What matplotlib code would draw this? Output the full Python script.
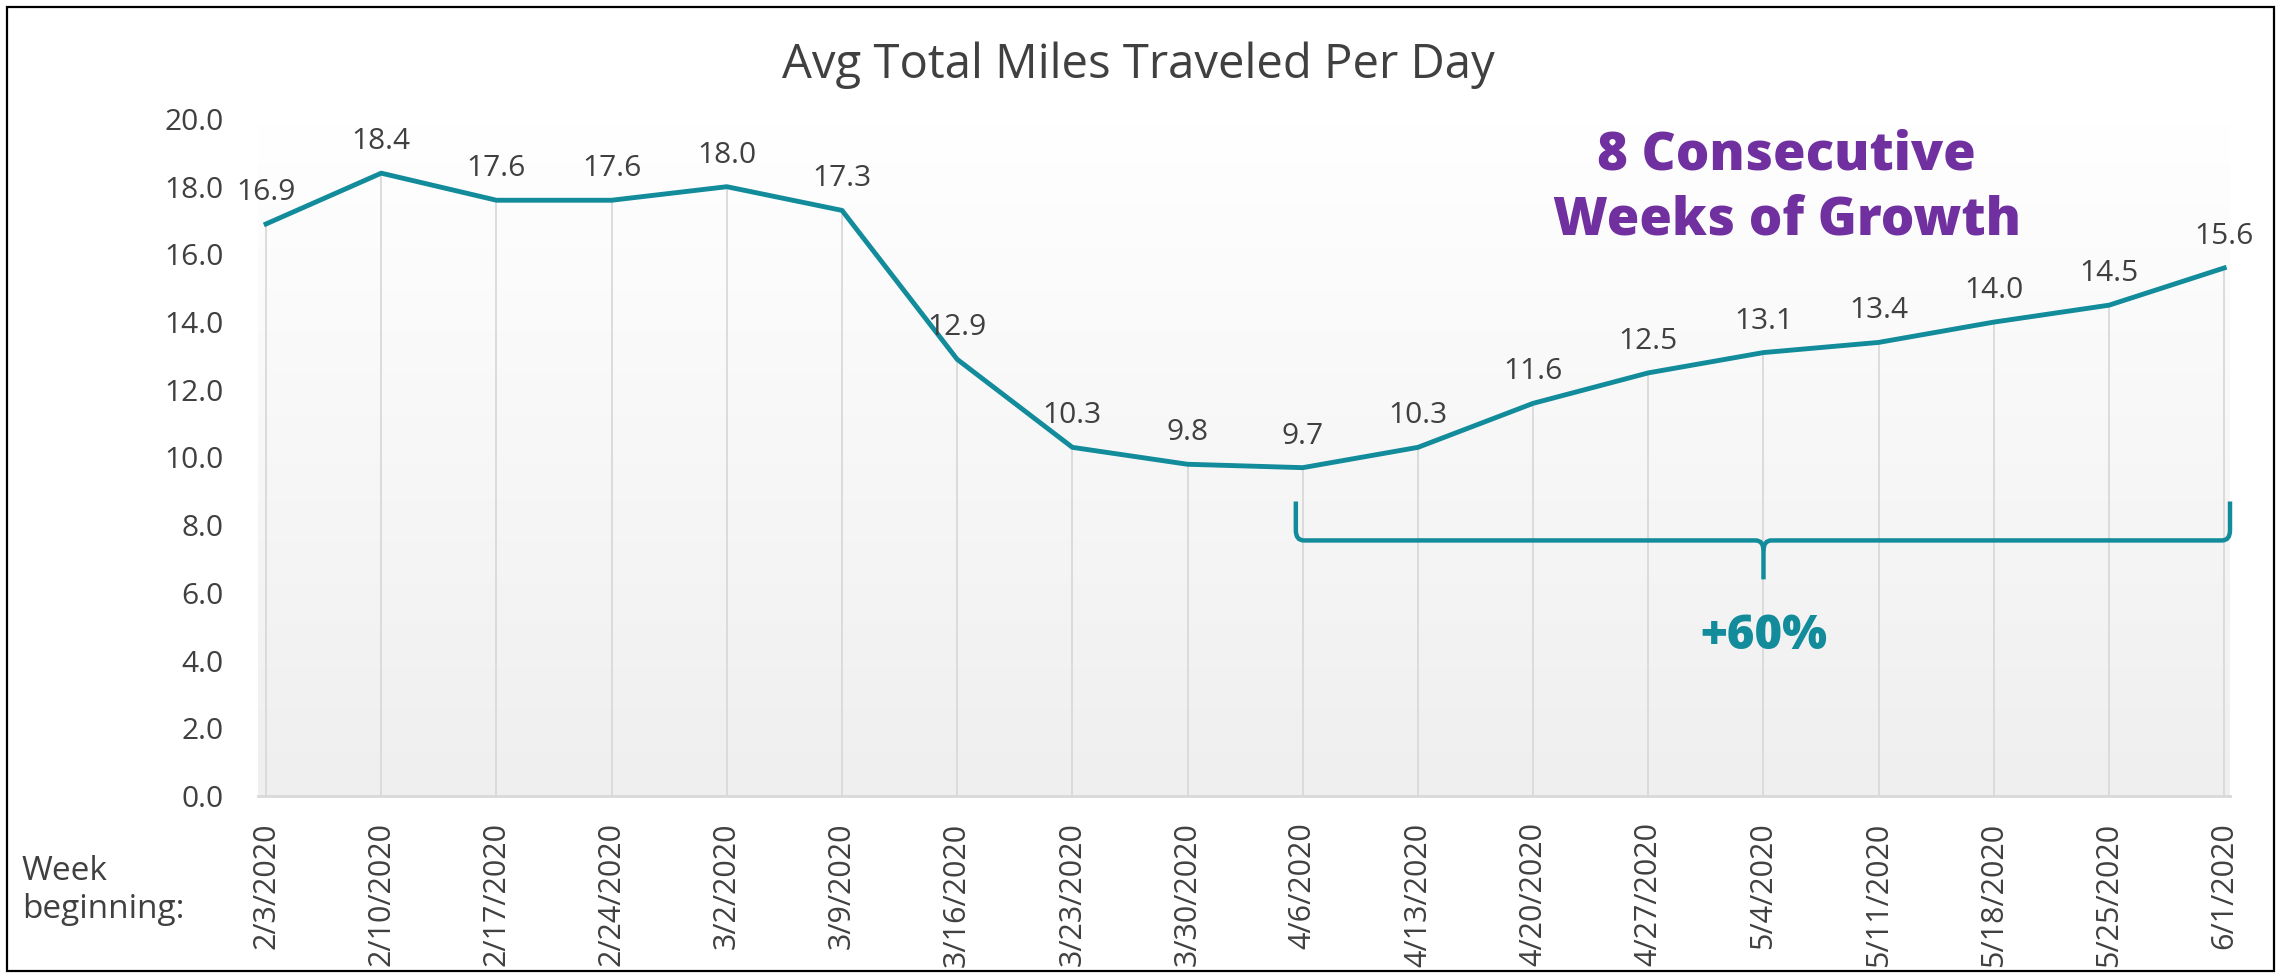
import numpy as np
import matplotlib
matplotlib.use("Agg")
import matplotlib.pyplot as plt
from matplotlib.path import Path
from matplotlib.patches import PathPatch, Rectangle
from matplotlib.colors import LinearSegmentedColormap

plt.rcParams['font.family'] = ['Open Sans', 'DejaVu Sans']

# data
weeks = ['2/3/2020', '2/10/2020', '2/17/2020', '2/24/2020', '3/2/2020', '3/9/2020',
         '3/16/2020', '3/23/2020', '3/30/2020', '4/6/2020', '4/13/2020', '4/20/2020',
         '4/27/2020', '5/4/2020', '5/11/2020', '5/18/2020', '5/25/2020', '6/1/2020']
miles = [16.9, 18.4, 17.6, 17.6, 18.0, 17.3, 12.9, 10.3, 9.8, 9.7, 10.3, 11.6,
         12.5, 13.1, 13.4, 14.0, 14.5, 15.6]
y_ticks = np.arange(0, 20.1, 2.0)

# brace across the growth weeks
growth_start = 9
growth_end = 17
brace_top = 8.7
brace_mid = 7.55
brace_tip = 6.4

teal = '#128B9B'
purple = '#7030A0'
grey_txt = '#404040'

fig = plt.figure(figsize=(22.79, 9.74), dpi=100)
ax = fig.add_axes([258/2279, 178/974, (2230-258)/2279, (796-119)/974])

x = np.arange(len(miles))
xlim = (-0.07, len(miles) - 1 + 0.05)
ax.set_xlim(*xlim)
ax.set_ylim(0, 20)

# gradient plot area
cmap = LinearSegmentedColormap.from_list('bg', ['#ffffff', '#efefef'])
ax.imshow(np.linspace(0, 1, 100).reshape(-1, 1), cmap=cmap, aspect='auto',
          extent=[xlim[0], xlim[1], 0, 20], zorder=0, interpolation='bilinear')

# drop lines
ax.vlines(x, 0, miles, color='#d9d9d9', lw=1.3, zorder=1)
ax.plot(x, miles, color=teal, lw=3.5, zorder=3, solid_joinstyle='round')

for xi, v in zip(x, miles):
    ax.annotate(f'{v:.1f}', (xi, v), xytext=(0, 17), textcoords='offset pixels',
                ha='center', va='bottom', fontsize=21.5, color=grey_txt)

for s in ['top', 'right', 'left']:
    ax.spines[s].set_visible(False)
ax.spines['bottom'].set_color('#d9d9d9')
ax.spines['bottom'].set_linewidth(2)

ax.set_yticks(y_ticks)
ax.set_yticklabels([f'{t:.1f}' for t in y_ticks])
ax.set_xticks(x)
ax.set_xticklabels(weeks, rotation=90, va='top', ha='center')
ax.tick_params(axis='y', length=0, pad=25, labelsize=21.5, labelcolor=grey_txt)
ax.tick_params(axis='x', length=0, pad=19, labelsize=22, labelcolor=grey_txt)

fig.text(1138/2279, 1 - 65/974, 'Avg Total Miles Traveled Per Day', ha='center',
         va='center', fontsize=34, color=grey_txt)
fig.text(22/2279, 1 - 890/974, 'Week\nbeginning:', ha='left', va='center',
         fontsize=24, color=grey_txt, linespacing=1.2)

ax.text(13.2, 17.95, '8 Consecutive\nWeeks of Growth', ha='center', va='center',
        fontsize=38, fontweight='heavy', color=purple, linespacing=1.3)
ax.text(13.0, 4.7, '+60%', ha='center', va='center', fontsize=34,
        fontweight='heavy', color=teal)

# curly brace
xl = growth_start - 0.06
xr = growth_end + 0.05
xc = (growth_start + growth_end) / 2
dx = 0.07
dy = 0.3
verts = [(xl, brace_top), (xl, brace_mid + dy), (xl, brace_mid), (xl + dx, brace_mid),
         (xc - dx, brace_mid), (xc, brace_mid), (xc, brace_mid - dy), (xc, brace_tip)]
codes = [Path.MOVETO, Path.LINETO, Path.CURVE3, Path.CURVE3,
         Path.LINETO, Path.CURVE3, Path.CURVE3, Path.LINETO]
ax.add_patch(PathPatch(Path(verts, codes), fill=False, ec=teal, lw=3.2, zorder=4,
                       clip_on=False))
verts = [(xr, brace_top), (xr, brace_mid + dy), (xr, brace_mid), (xr - dx, brace_mid),
         (xc + dx, brace_mid), (xc, brace_mid), (xc, brace_mid - dy)]
codes = [Path.MOVETO, Path.LINETO, Path.CURVE3, Path.CURVE3,
         Path.LINETO, Path.CURVE3, Path.CURVE3]
ax.add_patch(PathPatch(Path(verts, codes), fill=False, ec=teal, lw=3.2, zorder=4,
                       clip_on=False))

# outer frame
fig.patches.append(Rectangle((0.003, 0.003), 0.995, 0.99, transform=fig.transFigure,
                             fill=False, ec='black', lw=1.6))

fig.savefig('out.png', dpi=100)
